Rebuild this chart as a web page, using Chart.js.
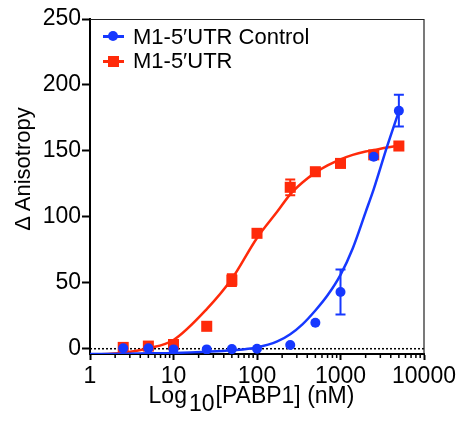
<!DOCTYPE html>
<html><head><meta charset="utf-8">
<script src="https://cdn.jsdelivr.net/npm/chart.js@4.4.1/dist/chart.umd.min.js"></script>
<style>
html,body{margin:0;padding:0;background:#fff;}
#wrap{position:relative;width:459px;height:425px;font-family:"Liberation Sans",Arial,sans-serif;color:#000;overflow:hidden;}
canvas{position:absolute;left:0;top:0;}
.lab{position:absolute;white-space:nowrap;line-height:1;}
.mk{position:absolute;}
</style></head><body>
<div id="wrap">
<canvas id="c" width="459" height="425"></canvas>
<div class="lab" id="ytitle" style="font-size:22px;left:-77px;top:158px;width:200px;height:22px;text-align:center;transform:rotate(-90deg);">Δ Anisotropy</div>
<div class="lab" id="xtitle" style="font-size:23px;left:0;top:384px;width:503px;text-align:center;">Log<span style="position:relative;top:8px;margin:0 1px 0 2px;">10</span>[PABP1] (nM)</div>
<div class="mk" style="left:103px;top:35px;width:21px;height:2.5px;background:#1638ff;"></div>
<div class="mk" style="left:108px;top:31px;width:10px;height:10px;border-radius:50%;background:#1638ff;"></div>
<div class="lab" style="font-size:22px;left:133px;top:25.5px;">M1-5′UTR Control</div>
<div class="mk" style="left:103px;top:60px;width:21px;height:2.5px;background:#ff2a0a;"></div>
<div class="mk" style="left:107.5px;top:55.5px;width:11px;height:11px;background:#ff2a0a;"></div>
<div class="lab" style="font-size:22px;left:133px;top:50.4px;">M1-5′UTR</div>
</div>
<script>
const BLUE = '#1638ff';
const RED = '#ff2a0a';
const FONT = '"Liberation Sans", Arial, sans-serif';

const concentrations = [2.5, 5, 10, 25, 50, 100, 250, 500, 1000, 2500, 5000];
const controlMean = [0.3, 0.3, -0.5, -0.5, -0.3, 0, 2.8, 19.7, 43, 145.6, 180.5];
const controlErr  = [0, 0, 0, 0, 0, 0, 0, 0, 17, 0, 12];
const utrMean = [1, 2, 3.2, 17, 52, 87.5, 122.4, 134.2, 140.5, 147, 153.7];
const utrErr  = [0, 0, 0, 0, 4.5, 0, 6, 0, 0, 0, 0];

const fitX       = [1, 2.5, 5, 10, 25, 50, 100, 175, 250, 350, 500, 700, 1000, 1400, 2000, 2500, 3600, 5000];
const controlFit = [-4, -3.8, -3.5, -3.2, -2.3, -1.2, 1, 5.5, 11, 18.5, 29, 40.5, 56, 76, 103.6, 121, 153, 180];
const utrFit     = [-4.5, -3, 0.3, 6.6, 30, 53, 84, 104, 117, 126, 133.5, 139, 143.6, 147, 149.5, 150.6, 152.5, 154];

const xTicks = [1, 10, 100, 1000, 10000];
const yTicks = [0, 50, 100, 150, 200, 250];

const pts = (xs, ys) => xs.map((x, i) => ({x: x, y: ys[i]}));

const decor = {
  id: 'decor',
  beforeDatasetsDraw(chart) {
    const {ctx, chartArea: a, scales: {y}} = chart;
    const y0 = y.getPixelForValue(0);
    ctx.save();
    ctx.setLineDash([2, 2]);
    ctx.lineWidth = 1.5;
    ctx.strokeStyle = '#000';
    ctx.beginPath(); ctx.moveTo(a.left, y0); ctx.lineTo(a.right, y0); ctx.stroke();
    ctx.restore();
  },
  afterDatasetsDraw(chart) {
    const {ctx, scales: {x, y}} = chart;
    const series = [[concentrations, utrMean, utrErr, RED], [concentrations, controlMean, controlErr, BLUE]];
    ctx.save();
    ctx.lineWidth = 2;
    series.forEach(([cx, m, e, col]) => {
      ctx.strokeStyle = col;
      cx.forEach((c, i) => {
        if (!e[i]) return;
        const px = x.getPixelForValue(c);
        const t = y.getPixelForValue(m[i] + e[i]);
        const b = y.getPixelForValue(m[i] - e[i]);
        ctx.beginPath();
        ctx.moveTo(px, t); ctx.lineTo(px, b);
        ctx.moveTo(px - 5, t); ctx.lineTo(px + 5, t);
        ctx.moveTo(px - 5, b); ctx.lineTo(px + 5, b);
        ctx.stroke();
      });
    });
    ctx.restore();
  },
  afterDraw(chart) {
    const {ctx, chartArea: a, scales: {x}} = chart;
    ctx.save();
    ctx.strokeStyle = '#222';
    ctx.lineWidth = 1.2;
    ctx.beginPath();
    ctx.moveTo(a.left, a.top + 0.5); ctx.lineTo(a.right, a.top + 0.5); ctx.lineTo(a.right, a.bottom);
    ctx.stroke();
    ctx.strokeStyle = '#000';
    ctx.lineWidth = 1.5;
    ctx.beginPath();
    for (let d = 1; d < 10000; d *= 10) {
      for (let k = 2; k <= 9; k++) {
        const px = x.getPixelForValue(d * k);
        ctx.moveTo(px, a.bottom); ctx.lineTo(px, a.bottom + 4);
      }
    }
    ctx.stroke();
    ctx.restore();
  }
};

new Chart(document.getElementById('c'), {
  type: 'scatter',
  data: {
    datasets: [
      {label: 'M1-5′UTR Control', data: pts(concentrations, controlMean), backgroundColor: BLUE, borderColor: BLUE,
       borderWidth: 0, pointStyle: 'circle', pointRadius: 5, showLine: false},
      {label: 'Control fit', data: pts(fitX, controlFit), borderColor: BLUE, borderWidth: 2.5, pointRadius: 0,
       showLine: true, fill: false, cubicInterpolationMode: 'monotone'},
      {label: 'M1-5′UTR', data: pts(concentrations, utrMean), backgroundColor: RED, borderColor: RED,
       borderWidth: 0, pointStyle: 'rect', pointRadius: 7.8, showLine: false},
      {label: 'UTR fit', data: pts(fitX, utrFit), borderColor: RED, borderWidth: 2.5, pointRadius: 0,
       showLine: true, fill: false, cubicInterpolationMode: 'monotone'}
    ]
  },
  options: {
    responsive: false,
    devicePixelRatio: 1,
    animation: false,
    events: [],
    layout: {padding: {left: 0, right: 35, top: 19, bottom: 0}},
    plugins: {legend: {display: false}, tooltip: {enabled: false}},
    scales: {
      x: {
        type: 'logarithmic', position: 'bottom', min: 1, max: 10000,
        afterBuildTicks: s => { s.ticks = xTicks.map(v => ({value: v, major: true})); },
        afterFit: s => { s.height = 71; s.paddingLeft = 0; s.paddingRight = 0; },
        ticks: {callback: v => String(v), autoSkip: false, maxRotation: 0, minRotation: 0,
                font: {size: 23, family: FONT}, color: '#000', padding: 3},
        grid: {drawOnChartArea: false, drawTicks: true, tickLength: 6, tickColor: '#000', tickWidth: 2},
        border: {display: true, color: '#000', width: 2},
        title: {display: false}
      },
      y: {
        type: 'linear', position: 'left', min: -4, max: 250,
        afterBuildTicks: s => { s.ticks = yTicks.map(v => ({value: v})); },
        afterFit: s => { s.width = 90; s.paddingTop = 0; s.paddingBottom = 0; },
        ticks: {font: {size: 23, family: FONT}, color: '#000', padding: 1},
        grid: {drawOnChartArea: false, drawTicks: true, tickLength: 8, tickColor: '#000', tickWidth: 2},
        border: {display: true, color: '#000', width: 2},
        title: {display: false}
      }
    }
  },
  plugins: [decor]
});
</script>
</body></html>
